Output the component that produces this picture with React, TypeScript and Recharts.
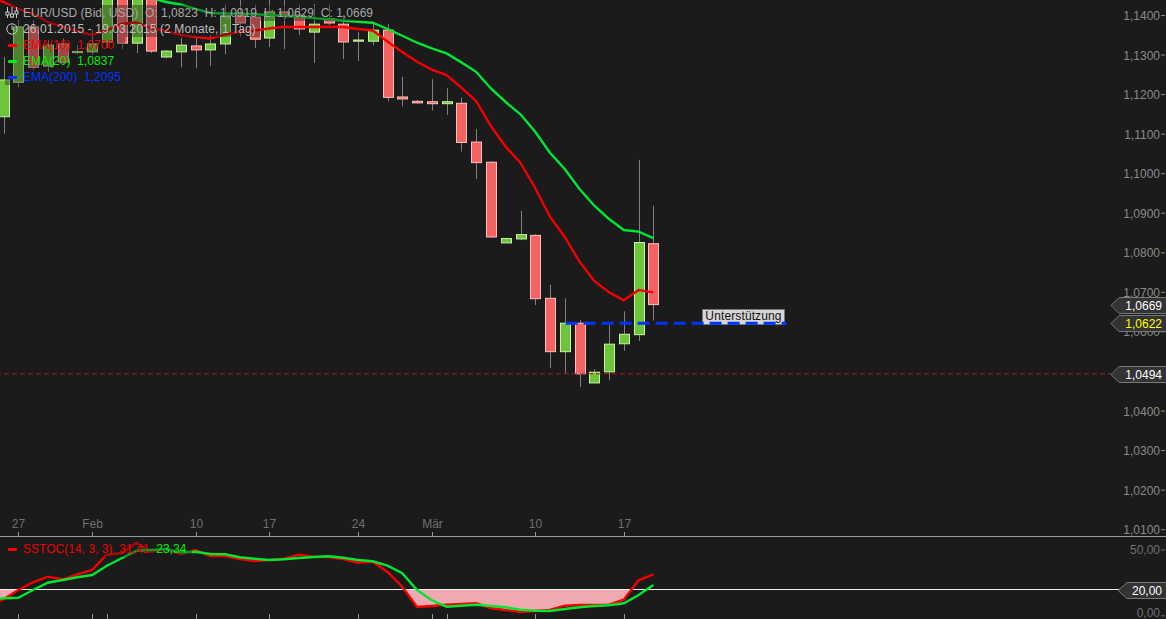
import {
  Area,
  Bar,
  ComposedChart,
  Line,
  ReferenceDot,
  ReferenceLine,
  XAxis,
  YAxis,
} from "recharts";

// index -1 is the bar just left of the window, the lines run in from there
const days = [
  -1, 0, 1, 2, 3, 4, 5, 6, 7, 8, 9, 10, 11, 12, 13, 14, 15, 16, 17, 18, 19, 20, 21, 22, 23, 24, 25,
  26, 27, 28, 29, 30, 31, 32, 33, 34, 35, 36, 37, 38, 39, 40, 41, 42, 43, 44,
];

const opens = [
  null, 1.1144, 1.1231, 1.1371, 1.1272, 1.1328, 1.1306, 1.1308, 1.1333, 1.1477, 1.133, 1.1477, 1.1295,
  1.1308, 1.1323, 1.1313, 1.1328, 1.1399, 1.1396, 1.1343, 1.1409, 1.1401, 1.1358, 1.1392, 1.1378, 1.1335,
  1.1335, 1.1363, 1.1194, 1.1183, 1.1182, 1.1177, 1.1178, 1.108, 1.1029, 1.0825, 1.0835, 1.0844, 1.0685,
  1.055, 1.0622, 1.0471, 1.0499, 1.057, 1.0593, 1.0823,
];
const highs = [
  null, 1.1295, 1.1389, 1.1389, 1.1338, 1.1343, 1.1325, 1.1363, 1.149, 1.149, 1.149, 1.149, 1.1313,
  1.1343, 1.1343, 1.1351, 1.1427, 1.1439, 1.1427, 1.1439, 1.1439, 1.1427, 1.1429, 1.1427, 1.1401, 1.1358,
  1.1384, 1.1378, 1.1245, 1.1187, 1.1239, 1.1216, 1.1192, 1.1113, 1.1032, 1.0836, 1.0906, 1.0847, 1.0719,
  1.0685, 1.063, 1.0506, 1.0618, 1.0652, 1.1035, 1.0919,
];
const lows = [
  null, 1.1101, 1.1219, 1.1262, 1.1257, 1.1275, 1.1302, 1.13, 1.1318, 1.1315, 1.1305, 1.1305, 1.1292,
  1.1269, 1.1267, 1.1272, 1.1302, 1.1346, 1.1318, 1.132, 1.1315, 1.1351, 1.128, 1.1376, 1.129, 1.1285,
  1.1325, 1.1183, 1.117, 1.1177, 1.116, 1.1149, 1.1056, 1.0987, 1.0838, 1.0825, 1.0832, 1.0668, 1.0509,
  1.0495, 1.0461, 1.0471, 1.0478, 1.0552, 1.0577, 1.0629,
];
const closes = [
  null, 1.1237, 1.1371, 1.1269, 1.1325, 1.1282, 1.1309, 1.1328, 1.1477, 1.133, 1.1477, 1.131, 1.131,
  1.1325, 1.1313, 1.1328, 1.1399, 1.1381, 1.134, 1.1409, 1.1399, 1.1366, 1.1378, 1.1381, 1.1333, 1.1338,
  1.1363, 1.1193, 1.1189, 1.1179, 1.1177, 1.1182, 1.1079, 1.1028, 1.084, 1.0836, 1.0846, 1.0684, 1.055,
  1.0622, 1.0494, 1.0498, 1.0569, 1.0594, 1.0826, 1.0669,
];
const ema10 = [
  1.14469, 1.14342, 1.14165, 1.14038, 1.13835, 1.13709, 1.13607, 1.13506, 1.13633, 1.13785, 1.13823, 1.13683,
  1.13607, 1.13506, 1.13455, 1.13417, 1.13519, 1.13582, 1.1362, 1.13671, 1.13716, 1.13709, 1.13709, 1.13716,
  1.13709, 1.13658, 1.1362, 1.13341, 1.13075, 1.12829, 1.12632, 1.12492, 1.12175, 1.11838, 1.11206, 1.10683,
  1.10279, 1.09638, 1.08913, 1.084, 1.07775, 1.07287, 1.07002, 1.06799, 1.0706, 1.07,
];
const ema20 = [
  1.15153, 1.15102, 1.15052, 1.15001, 1.1495, 1.149, 1.14849, 1.14798, 1.14722, 1.14621, 1.14545, 1.14444,
  1.14342, 1.14279, 1.14165, 1.14063, 1.14051, 1.14046, 1.1403, 1.14013, 1.13995, 1.13967, 1.13932, 1.13904,
  1.13873, 1.13843, 1.13818, 1.13658, 1.13488, 1.13311, 1.13169, 1.13042, 1.12814, 1.12576, 1.12155, 1.11813,
  1.11502, 1.11062, 1.10531, 1.10119, 1.09613, 1.09191, 1.08855, 1.08577, 1.08534, 1.0837,
];
const sstocK = [
  8.2, 12.56, 19.62, 25.47, 29.72, 27.75, 31.54, 34.81, 46.73, 47.49, 55.54, 48.71, 50.53, 46.73, 50, 45.44,
  45.44, 43.16, 41.65, 42.41, 43.39, 46.43, 44.91, 44.68, 43.16, 40.35, 41.11, 33.29, 22.13, 6.71, 7.47, 8.46,
  8.99, 9.52, 5.72, 4.43, 2.91, 3.67, 4.43, 7.7, 8.23, 8.23, 8.46, 12.25, 26.99, 31.41,
];
const sstocD = [
  12.78, 13.32, 13.77, 19.62, 25.16, 27.22, 29.27, 31.01, 38.08, 43.7, 49.47, 50, 50.76, 48.25, 48.71, 46.96,
  46.73, 44.46, 43.39, 42.41, 42.94, 43.92, 44.68, 45.21, 44.15, 42.41, 41.42, 38.08, 32.3, 19.62, 11.8, 6.94,
  7.7, 8.46, 7.47, 6.48, 4.66, 3.9, 3.67, 5.19, 6.48, 7.47, 8, 9.52, 15.82, 23.34,
];

// 1,0500 sits fully behind the 1,0494 tag in the reference, so it is left out
const priceTicks = [1.01, 1.02, 1.03, 1.04, 1.06, 1.07, 1.08, 1.09, 1.1, 1.11, 1.12, 1.13, 1.14];
const dateTicks = [1, 6, 13, 18, 24, 29, 36, 42];
const dateLabels = ["27", "Feb", "10", "17", "24", "Mär", "10", "17"];
const lowerTicks = [1, 6, 7, 13, 18, 24, 29, 30, 36, 42];
const oscTicks = [0, 50];
const SUPPORT = 1.0622;
const LAST_CLOSE = 1.0669;
const RECENT_LOW = 1.0494;
const OSC_LEVEL = 20;

const rows = days.map((idx, i) => ({
  idx,
  open: opens[i],
  high: highs[i],
  low: lows[i],
  close: closes[i],
  range: lows[i] == null ? null : [lows[i], highs[i]],
  ema10: ema10[i],
  ema20: ema20[i],
}));
const oscRows = days.map((idx, i) => ({ idx, k: sstocK[i], d: sstocD[i] }));
// pink part under the 20 line, with the two extra points where %K crosses it
const fillRows = [
  { idx: -1, band: [8.2, 20] },
  { idx: 0, band: [12.56, 20] },
  { idx: 1, band: [19.62, 20] },
  { idx: 1.07, band: [20, 20] },
  { idx: 10, band: null },
  { idx: 27.14, band: [20, 20] },
  ...days
    .map((idx, i) => ({ idx, band: [sstocK[i], 20] }))
    .filter((r) => r.idx >= 28 && r.idx <= 42),
  { idx: 42.53, band: [20, 20] },
];

const X_DOMAIN = [-1.591, 78.71];
const PRICE_DOMAIN = [1.00827, 1.15403];
const OSC_DOMAIN = [-2.4, 59.87];
const FONT = "'Liberation Sans', Arial, sans-serif";
const OFFSET_X = 20; // the charts start 20px left of the page so the lines run off the edge
const TAG_X = 75;

function Candle(props: any) {
  const { x, y, width, height, payload } = props;
  if (payload.open == null) return null;
  const unit = height / (payload.high - payload.low);
  const at = (p: number) => y + (payload.high - p) * unit;
  const up = payload.close >= payload.open;
  const top = at(Math.max(payload.open, payload.close));
  const bottom = at(Math.min(payload.open, payload.close));
  const cx = Math.round(x + width / 2) + 0.5;
  return (
    <g>
      <line x1={cx} x2={cx} y1={y} y2={y + height} stroke="#808080" strokeWidth={1} />
      <rect
        x={cx - 5}
        y={top}
        width={10}
        height={Math.max(bottom - top, 1)}
        fill={up ? "#6ec43a" : "#f56262"}
        stroke={up ? "#c8f5a0" : "#ffc0bc"}
        strokeWidth={1}
      />
    </g>
  );
}

function PriceTick(props: any) {
  const { y, payload } = props;
  return (
    <g>
      <text
        x={1160 + OFFSET_X}
        y={y + 4.5}
        textAnchor="end"
        fill="#8a8a8a"
        fontFamily={FONT}
        fontSize={12}
      >
        {payload.value.toFixed(4).replace(".", ",")}
      </text>
      <line x1={1161 + OFFSET_X} x2={1165 + OFFSET_X} y1={y} y2={y} stroke="#8a8a8a" />
    </g>
  );
}

function OscTick(props: any) {
  const { y, payload } = props;
  // the 0,00 label has to stay inside the page
  const dy = payload.value === 0 ? 1 : 4;
  return (
    <g>
      <text
        x={1160 + OFFSET_X}
        y={y + dy}
        textAnchor="end"
        fill="#707070"
        fontFamily={FONT}
        fontSize={12}
      >
        {payload.value.toFixed(2).replace(".", ",")}
      </text>
      <line x1={1161 + OFFSET_X} x2={1165 + OFFSET_X} y1={y} y2={y} stroke="#707070" />
    </g>
  );
}

function DateTick(props: any) {
  const { x, payload } = props;
  const label = dateLabels[dateTicks.indexOf(payload.value)];
  const px = Math.round(x) + 0.5;
  return (
    <g>
      <text x={px} y={568} textAnchor="middle" fill="#707070" fontFamily={FONT} fontSize={12}>
        {label}
      </text>
      <line x1={px} x2={px} y1={572} y2={576} stroke="#999999" />
    </g>
  );
}

function LowerTick(props: any) {
  const px = Math.round(props.x) + 0.5;
  return <line x1={px} x2={px} y1={77} y2={82} stroke="#999999" />;
}

function PriceTag(props: any) {
  const { cy, text, color, tip, body } = props;
  const l = tip + OFFSET_X;
  const b = body + OFFSET_X;
  const r = 1170 + OFFSET_X;
  const c = Math.round(cy) + 0.5;
  return (
    <g>
      <polygon
        points={`${l},${c} ${b},${c - 8} ${r},${c - 8} ${r},${c + 8} ${b},${c + 8}`}
        fill="#333333"
        stroke="#777777"
      />
      <text x={1162 + OFFSET_X} y={c + 4} textAnchor="end" fill={color} fontFamily={FONT} fontSize={12}>
        {text}
      </text>
    </g>
  );
}

const legendRow = (top: number, width: number): React.CSSProperties => ({
  position: "absolute",
  left: 5,
  top,
  width,
  height: 16,
  background: "rgba(26,26,26,0.38)",
});

const legendText = (top: number, color: string, spacing = 0.03): React.CSSProperties => ({
  position: "absolute",
  left: 23,
  top,
  color,
  fontFamily: FONT,
  fontSize: 12,
  lineHeight: "16px",
  whiteSpace: "pre",
  letterSpacing: spacing,
});

const marker = (top: number, color: string): React.CSSProperties => ({
  position: "absolute",
  left: 8,
  top,
  width: 9,
  height: 3,
  borderRadius: 1,
  background: color,
});

export default function App() {
  return (
    <div
      style={{
        position: "absolute",
        left: 0,
        top: 0,
        width: 1166,
        height: 619,
        background: "#1b1b1b",
        overflow: "hidden",
      }}
    >
      {/* under the chart so the dashed support line runs over its lower edge */}
      <div
        style={{
          position: "absolute",
          left: 702,
          top: 309,
          width: 81,
          height: 14,
          background: "#d6d6d6",
          border: "1px solid #777777",
          color: "#111111",
          fontFamily: FONT,
          fontSize: 12,
          lineHeight: "13px",
          letterSpacing: 0.12,
          textAlign: "center",
        }}
      >
        Unterstützung
      </div>

      <div style={{ position: "absolute", left: -OFFSET_X, top: -40 }}>
        <ComposedChart
          width={1186}
          height={578}
          data={rows}
          margin={{ top: 0, right: 0, bottom: 1.5, left: 0 }}
        >
          <XAxis
            dataKey="idx"
            type="number"
            domain={X_DOMAIN}
            ticks={dateTicks}
            interval={0}
            height={1}
            mirror
            stroke="#999999"
            tickLine={false}
            tick={(p: any) => <DateTick {...p} />}
          />
          <YAxis
            orientation="right"
            width={1}
            mirror
            domain={PRICE_DOMAIN}
            ticks={priceTicks}
            interval={0}
            axisLine={false}
            tickLine={false}
            tick={(p: any) => <PriceTick {...p} />}
          />
          <ReferenceLine
            segment={[
              { x: -1.591, y: RECENT_LOW },
              { x: TAG_X, y: RECENT_LOW },
            ]}
            stroke="#a81c1c"
            strokeDasharray="5 3"
            strokeWidth={1}
          />
          <Bar
            dataKey="range"
            barSize={11}
            shape={(p: any) => <Candle {...p} />}
            isAnimationActive={false}
          />
          <Line
            dataKey="ema20"
            stroke="#00e632"
            strokeWidth={2.4}
            dot={false}
            activeDot={false}
            isAnimationActive={false}
          />
          <Line
            dataKey="ema10"
            stroke="#f40000"
            strokeWidth={2.4}
            dot={false}
            activeDot={false}
            isAnimationActive={false}
          />
          <ReferenceLine
            segment={[
              { x: 38.06, y: SUPPORT },
              { x: 53.03, y: SUPPORT },
            ]}
            stroke="#0033ff"
            strokeWidth={3}
            strokeDasharray="12 6"
          />
        </ComposedChart>
      </div>

      <div style={{ position: "absolute", left: -OFFSET_X, top: 537 }}>
        <ComposedChart
          width={1186}
          height={82}
          data={oscRows}
          margin={{ top: 0, right: 0, bottom: 0, left: 0 }}
        >
          <XAxis
            dataKey="idx"
            type="number"
            domain={X_DOMAIN}
            ticks={lowerTicks}
            interval={0}
            height={1}
            mirror
            axisLine={false}
            tickLine={false}
            tick={(p: any) => <LowerTick {...p} />}
          />
          <YAxis
            orientation="right"
            width={1}
            mirror
            domain={OSC_DOMAIN}
            ticks={oscTicks}
            interval={0}
            axisLine={false}
            tickLine={false}
            tick={(p: any) => <OscTick {...p} />}
          />
          <Area
            data={fillRows}
            dataKey="band"
            type="linear"
            stroke="none"
            fill="#eeaab0"
            fillOpacity={1}
            dot={false}
            activeDot={false}
            isAnimationActive={false}
          />
          <ReferenceLine y={OSC_LEVEL} stroke="#f0f0f0" strokeWidth={1} />
          <Line dataKey="k" stroke="#f40000" strokeWidth={2.4} dot={false} activeDot={false} isAnimationActive={false} />
          <Line dataKey="d" stroke="#00e632" strokeWidth={2.4} dot={false} activeDot={false} isAnimationActive={false} />
          <ReferenceDot
            x={TAG_X}
            y={OSC_LEVEL}
            shape={(p: any) => <PriceTag {...p} text="20,00" color="#ffffff" tip={1118} body={1127} />}
          />
        </ComposedChart>
      </div>

      {/* price tags in their own layer, they have to cover the axis labels */}
      <div style={{ position: "absolute", left: -OFFSET_X, top: -40 }}>
        <ComposedChart
          width={1186}
          height={578}
          data={rows}
          margin={{ top: 0, right: 0, bottom: 1.5, left: 0 }}
        >
          <XAxis dataKey="idx" type="number" domain={X_DOMAIN} hide />
          <YAxis domain={PRICE_DOMAIN} hide />
          {/* the chart only sets up its scales when it has a series */}
          <Line
            dataKey="ema10"
            stroke="none"
            dot={false}
            activeDot={false}
            isAnimationActive={false}
          />
          <ReferenceDot
            x={TAG_X}
            y={LAST_CLOSE}
            shape={(p: any) => <PriceTag {...p} text="1,0669" color="#ffffff" tip={1111} body={1119} />}
          />
          <ReferenceDot
            x={TAG_X}
            y={SUPPORT}
            shape={(p: any) => <PriceTag {...p} text="1,0622" color="#ffff00" tip={1111} body={1119} />}
          />
          <ReferenceDot
            x={TAG_X}
            y={RECENT_LOW}
            shape={(p: any) => <PriceTag {...p} text="1,0494" color="#ffffff" tip={1111} body={1119} />}
          />
        </ComposedChart>
      </div>

      {/* legend boxes on top of the candles */}
      <div style={legendRow(5, 373)} />
      <div style={legendRow(21, 255)} />
      <div style={legendRow(37, 120)} />
      <div style={legendRow(53, 120)} />
      <div style={legendRow(69, 121)} />
      <div style={legendRow(541, 187)} />

      <svg
        width={14}
        height={14}
        style={{ position: "absolute", left: 5, top: 6 }}
        fill="none"
        stroke="#cccccc"
      >
        <path d="M2.5 1V12M7 1V12M11.5 1V12" />
        <rect x={1} y={6} width={3} height={3} fill="#1b1b1b" />
        <rect x={5.5} y={8} width={3} height={3} fill="#1b1b1b" />
        <rect x={10} y={5} width={3} height={3} fill="#1b1b1b" />
      </svg>
      <svg
        width={14}
        height={14}
        style={{ position: "absolute", left: 5, top: 22 }}
        fill="none"
        stroke="#cccccc"
      >
        <circle cx={7} cy={7} r={5.2} />
        <path d="M7 3.5V7L9.5 8.5" />
      </svg>

      <div style={legendText(5, "#a8a8a8")}>{"EUR/USD (Bid, USD)  O: 1,0823  H: 1,0919  L: 1,0629  C: 1,0669"}</div>
      <div style={legendText(21, "#bdbdbd", 0.12)}>{"26.01.2015 - 19.03.2015 (2 Monate, 1 Tag)"}</div>
      <div style={legendText(37, "#ee0000")}>{"EMA(10)  1,0700"}</div>
      <div style={legendText(53, "#00ee00")}>{"EMA(20)  1,0837"}</div>
      <div style={legendText(69, "#0033ff")}>{"EMA(200)  1,2095"}</div>
      <div style={marker(44, "#ff0000")} />
      <div style={marker(60, "#00ee00")} />
      <div style={marker(76, "#0033ff")} />

      <div style={marker(548, "#ff0000")} />
      <div style={legendText(541, "#ee0000")}>
        {"SSTOC(14, 3, 3)  31,41  "}
        <span style={{ color: "#00ee00" }}>23,34</span>
      </div>
    </div>
  );
}
